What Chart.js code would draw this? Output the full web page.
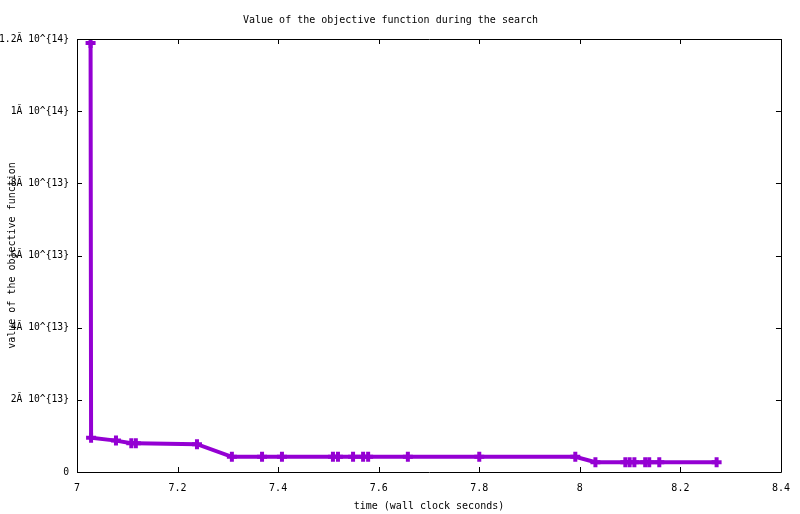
<!DOCTYPE html>
<html>
<head>
<meta charset="utf-8">
<script src="https://cdn.jsdelivr.net/npm/chart.js@4"></script>
<style>
  html, body { margin: 0; padding: 0; background: #fff; }
  #wrap { width: 800px; height: 514px; }
</style>
</head>
<body>
<div id="wrap"><canvas id="grafico" width="800" height="514"></canvas></div>
<script>
// tiempos (segundos de reloj) y valor de la funcion objetivo
var TIEMPOS = [7.027, 7.028, 7.0775, 7.108, 7.117, 7.2386, 7.308, 7.368, 7.4076,
    7.509, 7.519, 7.549, 7.569, 7.579, 7.658, 7.80, 7.991, 8.031,
    8.0905, 8.099, 8.1085, 8.130, 8.138, 8.158, 8.272];
var VALORES = [1.189e14, 9.5e12, 8.7e12, 8.0e12, 8.0e12, 7.7e12, 4.2e12, 4.2e12, 4.2e12,
    4.2e12, 4.2e12, 4.2e12, 4.2e12, 4.2e12, 4.2e12, 4.2e12, 4.2e12, 2.7e12,
    2.7e12, 2.7e12, 2.7e12, 2.7e12, 2.7e12, 2.7e12, 2.7e12];
var X_TICKS = [7, 7.2, 7.4, 7.6, 7.8, 8, 8.2, 8.4];
var Y_TICKS = [0, 2e13, 4e13, 6e13, 8e13, 1e14, 1.2e14];
var Y_ETIQUETAS = ["0", "2Ă 10^{13}", "4Ă 10^{13}", "6Ă 10^{13}", "8Ă 10^{13}", "1Ă 10^{14}", "1.2Ă 10^{14}"];

var FUENTE = "'DejaVu Sans Mono', 'Liberation Mono', monospace";

// marco y marcas hacia dentro, como gnuplot
var marco = {
    id: "marco",
    afterDraw: function (chart) {
        var ctx = chart.ctx;
        var a = chart.chartArea;
        var sx = chart.scales.x, sy = chart.scales.y;
        var L = 5;
        ctx.save();
        ctx.strokeStyle = "#000";
        ctx.lineWidth = 1;
        ctx.beginPath();
        ctx.rect(Math.round(a.left) + 0.5, Math.round(a.top) + 0.5,
            Math.round(a.right - a.left), Math.round(a.bottom - a.top));
        X_TICKS.forEach(function (v) {
            var px = Math.round(sx.getPixelForValue(v)) + 0.5;
            ctx.moveTo(px, a.bottom); ctx.lineTo(px, a.bottom - L);
            ctx.moveTo(px, a.top); ctx.lineTo(px, a.top + L);
        });
        Y_TICKS.forEach(function (v) {
            var py = Math.round(sy.getPixelForValue(v)) + 0.5;
            ctx.moveTo(a.left, py); ctx.lineTo(a.left + L, py);
            ctx.moveTo(a.right, py); ctx.lineTo(a.right - L, py);
        });
        ctx.stroke();
        ctx.restore();
    }
};

var ctx = document.getElementById("grafico").getContext("2d");
var miGrafico = new Chart(ctx, {
    type: "line",
    data: {
        datasets: [
            {
                label: "objetivo",
                data: TIEMPOS.map(function (t, i) { return { x: t, y: VALORES[i] }; }),
                borderColor: "#9400d3",
                backgroundColor: "#9400d3",
                borderWidth: 4,
                tension: 0,
                fill: false,
                pointStyle: "cross",
                pointRadius: 5,
                pointBorderWidth: 4,
                pointBorderColor: "#9400d3",
                pointHoverRadius: 5
            }
        ]
    },
    options: {
        responsive: false,
        animation: false,
        devicePixelRatio: 1,
        layout: { padding: { left: 0, right: 19, top: 0, bottom: 0 } },
        plugins: {
            legend: { display: false },
            tooltip: { enabled: false },
            title: {
                display: true,
                text: "Value of the objective function during the search",
                color: "#000",
                font: { family: FUENTE, size: 10, weight: "normal", lineHeight: 1.2 },
                padding: { top: 14, bottom: 13 }
            }
        },
        scales: {
            x: {
                type: "linear",
                min: 7,
                max: 8.4,
                afterBuildTicks: function (s) { s.ticks = X_TICKS.map(function (v) { return { value: v }; }); },
                afterFit: function (s) { s.height = 42; },
                grid: { display: false, drawTicks: false },
                border: { display: false },
                ticks: {
                    color: "#000",
                    font: { family: FUENTE, size: 10 },
                    padding: 10,
                    maxRotation: 0,
                    autoSkip: false,
                    callback: function (v) { return String(+v.toFixed(1)); }
                },
                title: {
                    display: true,
                    text: "time (wall clock seconds)",
                    color: "#000",
                    font: { family: FUENTE, size: 10, lineHeight: 1.2 },
                    padding: { top: 0, bottom: 2 }
                }
            },
            y: {
                type: "linear",
                min: 0,
                max: 1.2e14,
                afterBuildTicks: function (s) { s.ticks = Y_TICKS.map(function (v) { return { value: v }; }); },
                afterFit: function (s) { s.width = 77; },
                grid: { display: false, drawTicks: false },
                border: { display: false },
                ticks: {
                    color: "#000",
                    font: { family: FUENTE, size: 9.7 },
                    padding: 8,
                    autoSkip: false,
                    callback: function (v) {
                        var i = Y_TICKS.indexOf(v);
                        return i >= 0 ? Y_ETIQUETAS[i] : "";
                    }
                },
                title: {
                    display: true,
                    text: "value of the objective function",
                    color: "#000",
                    font: { family: FUENTE, size: 10, lineHeight: 1.2 },
                    padding: { top: 6, bottom: 0 }
                }
            }
        }
    },
    plugins: [marco]
});
</script>
</body>
</html>
